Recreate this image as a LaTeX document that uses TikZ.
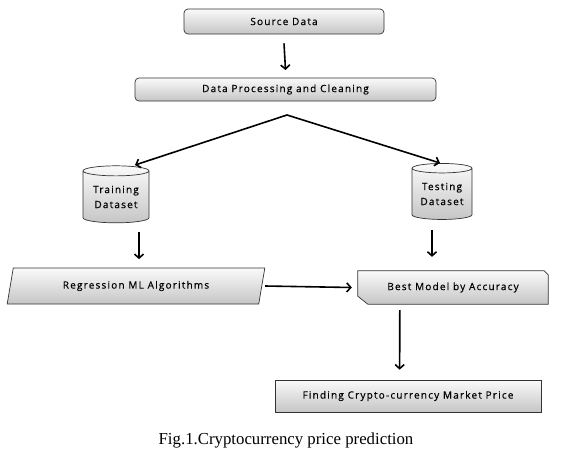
\documentclass[tikz,border=0pt]{standalone}
\usepackage{fontspec}
\setmainfont{Liberation Serif}
\newfontfamily\boxfont[LetterSpace=12,FakeBold=0.4]{Open Sans}
\usetikzlibrary{shapes.geometric,arrows.meta,calc}
\tikzset{
  boxtext/.style={font=\boxfont\fontsize{10}{12}\selectfont},
  boxbase/.style={draw=black!80, line width=0.7pt, top color=gray!4, bottom color=gray!45, boxtext, inner sep=0pt, align=center},
  roundbox/.style={boxbase, rounded corners=4pt},
  flow/.style={line width=1.6pt, -{Straight Barb[length=4pt,width=9pt]}},
}
\begin{document}
\begin{tikzpicture}[x=1pt,y=-1pt]
\useasboundingbox (0,0) rectangle (575,458);
\node[roundbox, minimum width=200, minimum height=25] (src) at (284,21.5) {Source Data};
\node[roundbox, minimum width=301, minimum height=23] (proc) at (285.5,89.5) {Data Processing and Cleaning};
\coordinate (split) at (287,115);
\node[boxbase, cylinder, shape border rotate=90, aspect=0.22, minimum width=66, minimum height=57] (train) at (116,197) {Training\\[3pt]Dataset};
\node[boxbase, cylinder, shape border rotate=90, aspect=0.22, minimum width=60, minimum height=56] (test) at (442,194) {Testing\\[3pt]Dataset};
\node[boxbase, trapezium, trapezium left angle=70, trapezium right angle=110, trapezium stretches=true, minimum width=258, minimum height=36] (reg) at (136,286) {Regression ML Algorithms};
\node[draw=none, minimum width=190, minimum height=33, boxtext] (best) at (453,287.5) {};
\path[boxbase] (best.north west) -- ($(best.north east)+(-4,0)$) -- ($(best.north east)+(0,4)$) -- (best.south east) -- ($(best.south west)+(10,0)$) -- ($(best.south west)+(0,-8)$) -- cycle;
\node[boxtext] (bestlabel) at (best) {Best Model by Accuracy};
\node[boxbase, minimum width=266, minimum height=32] (find) at (408,396) {Finding Crypto-currency Market Price};
\node (cap) at (286,440) {\fontsize{16.8}{19}\selectfont Fig.1.Cryptocurrency price prediction};
\draw[flow] (src.south) ++(0,9) -- (proc.north |- 0,70);
\draw[flow] (split) -- (135,165);
\draw[flow] (split) -- (440,163);
\draw[flow] (train.south) ++(23,9) -- ++(0,27);
\draw[flow] (test.south) ++(-10,10) -- ++(0,27);
\draw[flow] (reg.east) ++(3,0) -- ($(best.west)+(-6,0)$);
\draw[flow] ($(best.south west)+(42,6)$) -- ($(find.north west)+(125,-10)$);
\end{tikzpicture}
\end{document}
